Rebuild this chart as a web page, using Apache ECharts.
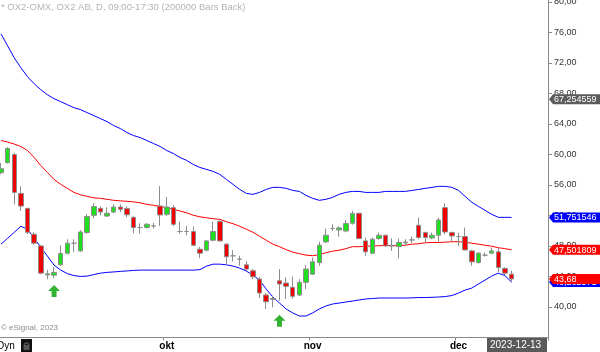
<!DOCTYPE html>
<html><head><meta charset="utf-8">
<script src="https://cdn.jsdelivr.net/npm/echarts@6/dist/echarts.min.js"></script>
<style>html,body{margin:0;padding:0;background:#fff;overflow:hidden}#c{width:600px;height:352px}</style>
</head><body><div id="c"></div>
<script>
// ---- data ----
const dates = ["2023-08-28","2023-08-29","2023-08-30","2023-08-31","2023-09-01","2023-09-04","2023-09-05","2023-09-06","2023-09-07","2023-09-08",
"2023-09-11","2023-09-12","2023-09-13","2023-09-14","2023-09-15","2023-09-18","2023-09-19","2023-09-20","2023-09-21","2023-09-22",
"2023-09-25","2023-09-26","2023-09-27","2023-09-28","2023-09-29","2023-10-02","2023-10-03","2023-10-04","2023-10-05","2023-10-06",
"2023-10-09","2023-10-10","2023-10-11","2023-10-12","2023-10-13","2023-10-16","2023-10-17","2023-10-18","2023-10-19","2023-10-20",
"2023-10-23","2023-10-24","2023-10-25","2023-10-26","2023-10-27","2023-10-30","2023-10-31","2023-11-01","2023-11-02","2023-11-03",
"2023-11-06","2023-11-07","2023-11-08","2023-11-09","2023-11-10","2023-11-13","2023-11-14","2023-11-15","2023-11-16","2023-11-17",
"2023-11-20","2023-11-21","2023-11-22","2023-11-23","2023-11-24","2023-11-27","2023-11-28","2023-11-29","2023-11-30","2023-12-01",
"2023-12-04","2023-12-05","2023-12-06","2023-12-07","2023-12-08","2023-12-11","2023-12-12","2023-12-13"];
const futureSlots = ["","","","",""];

const opens  = [57.61,58.95,60.00,54.90,52.94,49.54,48.01,44.20,44.18,45.53,47.06,48.37,47.36,49.76,52.03,52.94,51.93,52.46,53.11,52.90,
51.76,50.42,50.42,50.63,53.24,52.16,53.03,49.90,49.90,49.90,47.58,47.45,48.76,51.20,48.24,46.71,46.27,45.53,44.75,43.66,
41.57,41.10,43.44,43.14,42.58,41.57,43.23,44.31,45.84,48.54,50.29,50.11,49.97,50.98,52.29,48.67,47.06,48.98,49.41,48.01,
47.93,48.40,48.80,50.72,49.76,49.06,49.41,53.03,49.76,49.24,49.24,47.36,45.84,46.80,47.06,47.23,45.06,44.31];
const closes = [58.13,60.78,55.03,53.24,49.80,48.37,44.44,44.35,44.54,47.02,48.37,48.37,49.84,51.86,53.16,52.46,52.29,53.11,52.81,52.09,
50.42,50.42,50.85,50.63,52.07,53.11,50.85,49.90,49.90,48.10,47.06,48.67,49.90,48.67,46.58,46.71,46.27,44.97,43.96,41.83,
40.69,41.00,43.01,42.71,41.40,43.23,44.97,45.92,48.10,49.41,50.29,50.37,50.94,52.25,48.98,47.23,48.89,49.41,48.01,48.01,
48.46,48.50,48.80,49.11,49.11,49.41,51.41,49.84,49.32,49.24,47.49,45.92,47.06,46.80,47.36,45.19,44.44,43.68];
const lows   = [57.40,58.80,53.46,52.59,49.54,48.20,44.30,43.66,43.79,45.40,46.90,47.19,47.25,49.60,51.64,52.03,51.80,52.29,52.46,51.76,
49.67,49.63,50.30,50.29,50.63,51.93,50.60,49.63,49.41,47.97,46.41,47.30,48.60,48.55,45.53,45.97,45.40,44.71,43.66,41.18,
39.74,39.96,40.82,41.05,41.10,41.45,42.35,44.20,45.40,48.40,49.97,49.22,49.80,50.80,48.90,46.71,46.93,48.80,47.90,47.36,
46.37,48.10,48.37,48.89,48.37,48.90,48.54,49.54,48.67,48.01,47.40,45.40,45.70,46.63,46.93,44.61,44.18,43.31];
const highs  = [58.90,60.95,60.20,55.82,53.00,49.80,48.10,44.88,45.23,48.10,48.89,48.89,50.07,52.20,53.60,53.20,53.07,53.46,53.46,53.20,
51.90,50.98,51.00,51.02,55.86,54.42,53.37,51.20,50.63,50.57,47.88,48.80,51.20,51.50,48.40,47.45,46.71,46.00,45.00,43.90,
41.83,41.48,44.97,43.88,44.01,43.66,45.49,46.50,48.54,50.29,50.85,50.60,51.41,52.59,52.40,49.11,49.10,49.76,49.50,48.98,
48.98,48.90,49.24,51.73,49.90,49.76,51.73,53.59,49.90,49.76,50.42,47.50,47.20,47.15,47.80,47.80,45.20,44.75];

const upperBand = [75.82,74.25,72.68,71.37,70.20,69.28,68.50,67.84,67.32,66.93,66.54,66.14,65.88,65.49,65.10,64.71,64.31,63.79,63.40,62.88,
62.48,62.22,61.83,61.44,61.05,60.52,60.13,59.61,59.22,58.69,58.30,58.04,57.78,57.39,56.73,56.08,55.42,54.90,54.77,55.03,
55.42,55.69,55.69,55.56,55.29,55.16,54.64,54.25,53.99,54.12,54.38,54.77,55.03,55.16,55.16,55.03,55.03,55.03,55.16,55.16,
55.16,55.16,55.29,55.42,55.56,55.69,55.82,55.82,55.69,55.29,54.51,53.73,53.20,52.68,52.16,51.76,51.76,51.75];
const midBand = [61.83,61.63,61.37,61.05,60.52,59.61,58.56,57.65,56.73,56.08,55.56,55.03,54.71,54.51,54.31,54.25,54.12,53.99,53.92,53.86,
53.79,53.66,53.46,53.33,53.20,53.01,52.81,52.59,52.35,52.03,51.83,51.70,51.57,51.50,51.18,50.92,50.59,50.20,49.80,49.28,
48.76,48.24,47.91,47.52,47.19,46.99,46.80,46.73,46.86,47.12,47.32,47.45,47.65,47.91,47.91,47.97,48.01,48.04,48.07,48.07,
48.04,48.10,48.24,48.30,48.43,48.46,48.46,48.50,48.56,48.56,48.50,48.37,48.24,48.10,47.97,47.78,47.65,47.50];
const lowerBand = [48.24,49.02,49.80,50.59,50.20,49.02,47.84,46.67,45.49,44.84,44.38,44.12,44.01,44.05,44.25,44.44,44.54,44.60,44.67,44.73,
44.80,44.84,44.84,44.84,44.84,44.84,44.84,44.84,44.84,44.84,44.90,45.36,45.62,45.62,45.53,45.36,45.10,44.71,44.18,43.53,
42.35,41.31,40.52,39.74,39.22,38.82,38.82,39.22,39.74,40.13,40.39,40.52,40.65,40.78,40.92,41.05,41.11,41.18,41.18,41.18,
41.18,41.18,41.20,41.24,41.24,41.27,41.31,41.37,41.50,41.83,42.22,42.48,43.01,43.53,44.05,44.44,44.12,43.26];

const signalIdx = [8, 42];
const signalPrice = [42.1, 38.2];

const tagValues = [67.254559, 51.751546, 47.501809, 43.262571, 43.68];
const tagTexts  = ["67,254559", "51,751546", "47,501809", "43,262571", "43,68"];
const tagColors = ["#5c5c5c", "#0000ff", "#ff0000", "#0000ff", "#ff0000"];

const monthNames = {"09":"sep","10":"okt","11":"nov","12":"dec"};
const labelMonths = ["10","11","12"];
const titleText = "* OX2-OMX, OX2 AB, D, 09:00-17:30 (200000 Bars Back)";
const copyText = "\u00a9 eSignal, 2023";
const lastDateText = "2023-12-13";

// ---- layout ----
const GL = -2.3, GW = 550.3, GT = 0, GH = 337.5;
const Y_MIN = 36, Y_MAX = 80.262, Y_INT = 4;
const FONT = '"Liberation Sans", Arial, sans-serif';

const cats = dates.concat(futureSlots);
const candleData = opens.map((o, i) => [o, closes[i], lows[i], highs[i]]);
const isMonthStart = (idx) => {
  if (idx <= 0 || idx >= dates.length) return false;
  const m = dates[idx].slice(5, 7), p = dates[idx - 1].slice(5, 7);
  return m !== p && labelMonths.indexOf(m) >= 0;
};

const chart = echarts.init(document.getElementById('c'), null, {renderer: 'canvas'});
chart.setOption({
  animation: false,
  backgroundColor: '#ffffff',
  grid: {left: GL, top: GT, width: GW, height: GH, containLabel: false, outerBoundsMode: 'none'},
  xAxis: {
    type: 'category', data: cats, boundaryGap: true,
    axisLine: {show: true, lineStyle: {color: '#8a8a8a', width: 1}},
    axisTick: {show: true, length: 3, interval: (i) => isMonthStart(i), lineStyle: {color: '#8a8a8a'}},
    axisLabel: {
      show: true, interval: (i) => isMonthStart(i), margin: 4,
      formatter: (v) => v ? monthNames[v.slice(5, 7)] : '',
      color: '#000', fontWeight: 'bold', fontSize: 10, fontFamily: FONT
    },
    splitLine: {show: false}
  },
  yAxis: {
    type: 'value', position: 'right', min: Y_MIN, max: Y_MAX, interval: Y_INT, scale: true,
    axisLine: {show: true, lineStyle: {color: '#8a8a8a', width: 1}},
    axisTick: {show: true, length: 4, lineStyle: {color: '#8a8a8a'}},
    axisLabel: {
      show: true, margin: 6, fontSize: 9, fontFamily: FONT, color: '#333',
      showMinLabel: false, showMaxLabel: false,
      formatter: (v) => (Math.abs(v / Y_INT - Math.round(v / Y_INT)) < 1e-6 && v > Y_MIN) ? v.toFixed(2).replace('.', ',') : ''
    },
    splitLine: {show: false}
  },
  series: [
    {type: 'line', data: upperBand, symbol: 'none', z: 2, lineStyle: {color: '#0000ff', width: 1}, silent: true},
    {type: 'line', data: midBand, symbol: 'none', z: 2, lineStyle: {color: '#ff0000', width: 1}, silent: true},
    {type: 'line', data: lowerBand, symbol: 'none', z: 2, lineStyle: {color: '#0000ff', width: 1}, silent: true},
    {
      type: 'candlestick', data: candleData, barWidth: 5, z: 3,
      itemStyle: {color: '#1ee01e', color0: '#f50000', borderColor: '#8c8c8c', borderColor0: '#8c8c8c', borderWidth: 1}
    },
    {
      type: 'scatter', z: 4,
      data: signalIdx.map((i, k) => [i, signalPrice[k]]),
      symbol: 'path://M6,0 L12,6 L8.5,6 L8.5,12 L3.5,12 L3.5,6 L0,6 Z',
      symbolSize: [12, 12], itemStyle: {color: '#00a000'}
    }
  ]
});

// ---- overlay texts & value tags ----
const right = GL + GW;
const g = [];
g.push({type: 'text', x: 1, y: 2, z: 50, style: {text: titleText, fill: '#b4b4b4', font: '9.5px ' + FONT}});
g.push({type: 'text', x: 1, y: 328, z: 50, style: {text: copyText, fill: '#8a8a8a', font: '8px ' + FONT, verticalAlign: 'middle'}});
g.push({type: 'text', x: -3, y: 346, z: 50, style: {text: 'Dyn', fill: '#000', font: '10px ' + FONT, verticalAlign: 'middle'}});
g.push({type: 'rect', z: 50, shape: {x: 21, y: 339, width: 11, height: 13}, style: {fill: '#111'}});
g.push({type: 'rect', z: 51, shape: {x: 23.5, y: 345, width: 6, height: 5}, style: {fill: '#555'}});
g.push({type: 'arc', z: 51, shape: {cx: 26.5, cy: 345, r: 2.2, startAngle: Math.PI, endAngle: 2 * Math.PI}, style: {stroke: '#555', fill: null, lineWidth: 1.2}});
g.push({type: 'rect', z: 50, shape: {x: 487, y: 338, width: 60, height: 14}, style: {fill: '#5a5a5a'}});
g.push({type: 'text', x: 490, y: 345.5, z: 51, style: {text: lastDateText, fill: '#fff', font: '10px ' + FONT, verticalAlign: 'middle'}});
tagValues.forEach((v, k) => {
  const y = chart.convertToPixel({yAxisIndex: 0}, v);
  g.push({type: 'polygon', z: 60 + k, shape: {points: [[right + 1, y], [right + 5, y - 5], [600, y - 5], [600, y + 5], [right + 5, y + 5]]}, style: {fill: tagColors[k]}});
  g.push({type: 'text', z: 60 + k, x: right + 6, y: y + 0.5, style: {text: tagTexts[k], fill: '#fff', font: '9px ' + FONT, verticalAlign: 'middle'}});
});
chart.setOption({graphic: g});
</script>
</body></html>
